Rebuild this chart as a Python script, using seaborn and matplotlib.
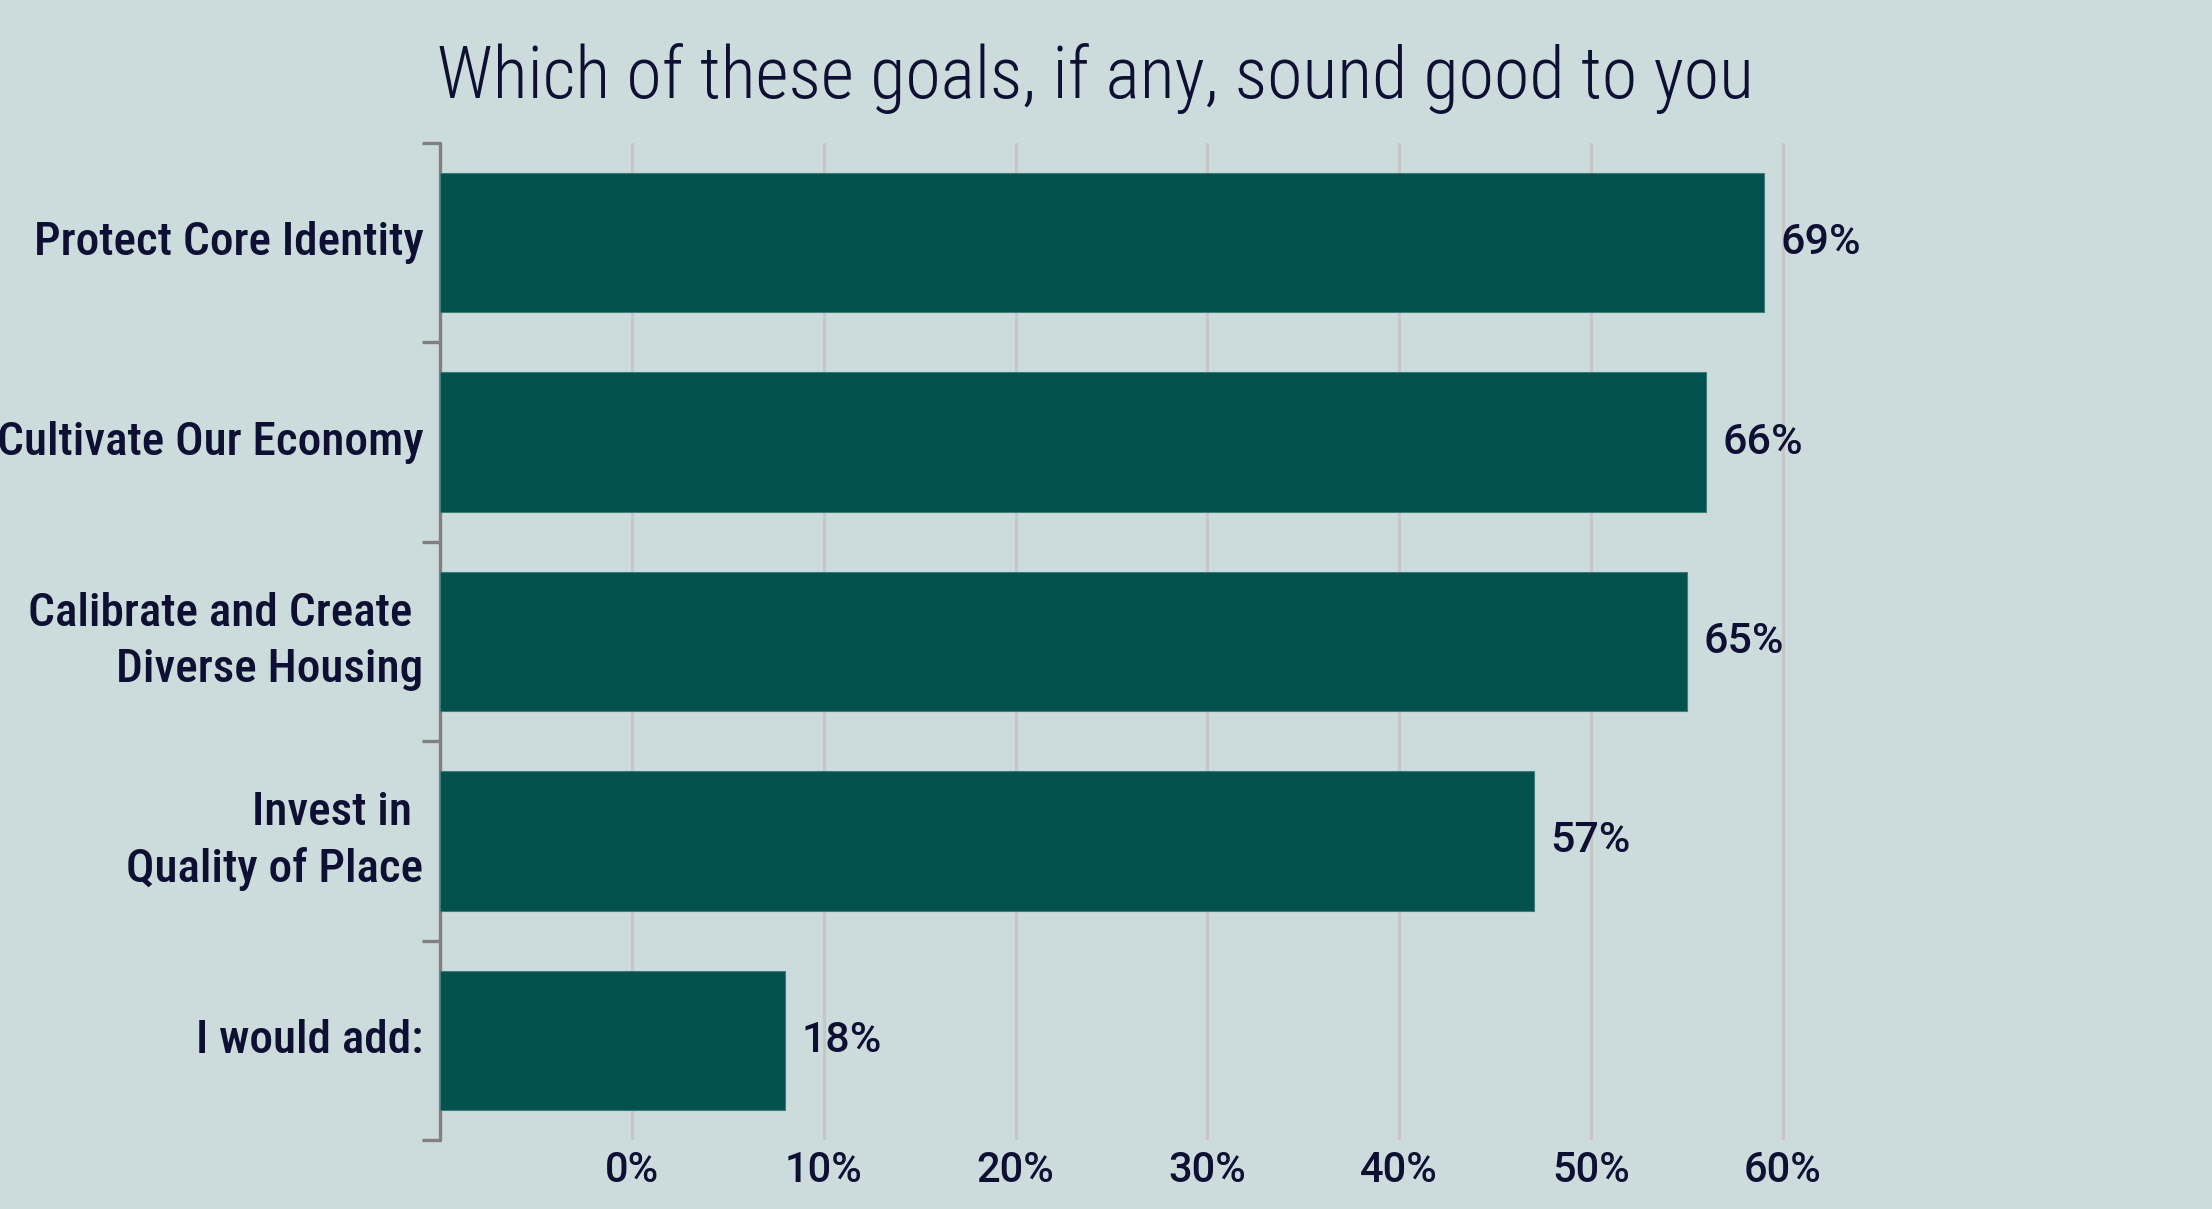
import numpy as np
import pandas as pd
import matplotlib
matplotlib.use('Agg')
from matplotlib import pyplot as plt
import seaborn as sns

# 数据
goals = ['Protect Core Identity', 'Cultivate Our Economy', 'Calibrate and Create \nDiverse Housing',
         'Invest in \nQuality of Place', 'I would add:']
pct = [69, 66, 65, 57, 18]
grid_pos = [10, 20, 30, 40, 50, 60, 70]
grid_labels = ['0%', '10%', '20%', '30%', '40%', '50%', '60%']

bg = '#CCDCDC'
bar_color = '#02514E'
ink = '#0E1033'

sns.set_theme(style='white')
plt.rcParams['font.family'] = ['Roboto Condensed', 'DejaVu Sans']

df = pd.DataFrame({'goal': goals, 'pct': pct})

fig = plt.figure(figsize=(22.12, 12.09), dpi=100, facecolor=bg)
ax = fig.add_axes([440 / 2212, 1 - 1140 / 1209, 1765 / 2212, 997 / 1209])
ax.set_facecolor(bg)

sns.barplot(data=df, x='pct', y='goal', orient='h', color=bar_color, saturation=1,
            width=0.70, edgecolor='#3E7C78', linewidth=0.8, ax=ax, zorder=3)

ax.set_xlim(0, 92)
ax.set_ylim(4.5, -0.5)

# 竖向网格线（标签错位与原图一致）
ax.set_xticks(grid_pos)
ax.set_xticklabels(grid_labels, fontsize=30, fontweight=500, color=ink, family='Roboto')
ax.tick_params(axis='x', length=0, pad=7)
ax.grid(axis='x', color='#C6C6C6', lw=2.2)
ax.set_axisbelow(True)

# y 轴：边界刻度 + 类别标签
ax.set_yticks(np.arange(-0.5, len(goals), 1.0))
ax.set_yticklabels([])
ax.tick_params(axis='y', which='major', length=13, width=2.4, color='#808080', direction='out', left=True)
ax.set_yticks(np.arange(len(goals)), minor=True)
ax.set_yticklabels(goals, minor=True, fontsize=34, fontweight=500, color=ink,
                   linespacing=1.38, va='center')
ax.tick_params(axis='y', which='minor', length=0, pad=12)

for s in ['top', 'right', 'bottom']:
    ax.spines[s].set_visible(False)
ax.spines['left'].set_color('#808080')
ax.spines['left'].set_linewidth(2.4)
ax.spines['left'].set_capstyle('round')
ax.spines['left'].set_zorder(2)

ax.set_xlabel('')
ax.set_ylabel('')

ax.bar_label(ax.containers[0], labels=[f'{v}%' for v in pct], padding=12,
             fontsize=31, fontweight=500, color=ink, family='Roboto')

fig.text(1095 / 2212, 1 - 78 / 1209, 'Which of these goals, if any, sound good to you',
         ha='center', va='center', fontsize=52, fontweight=300, color=ink)

fig.savefig('out.png', dpi=100, facecolor=bg)
